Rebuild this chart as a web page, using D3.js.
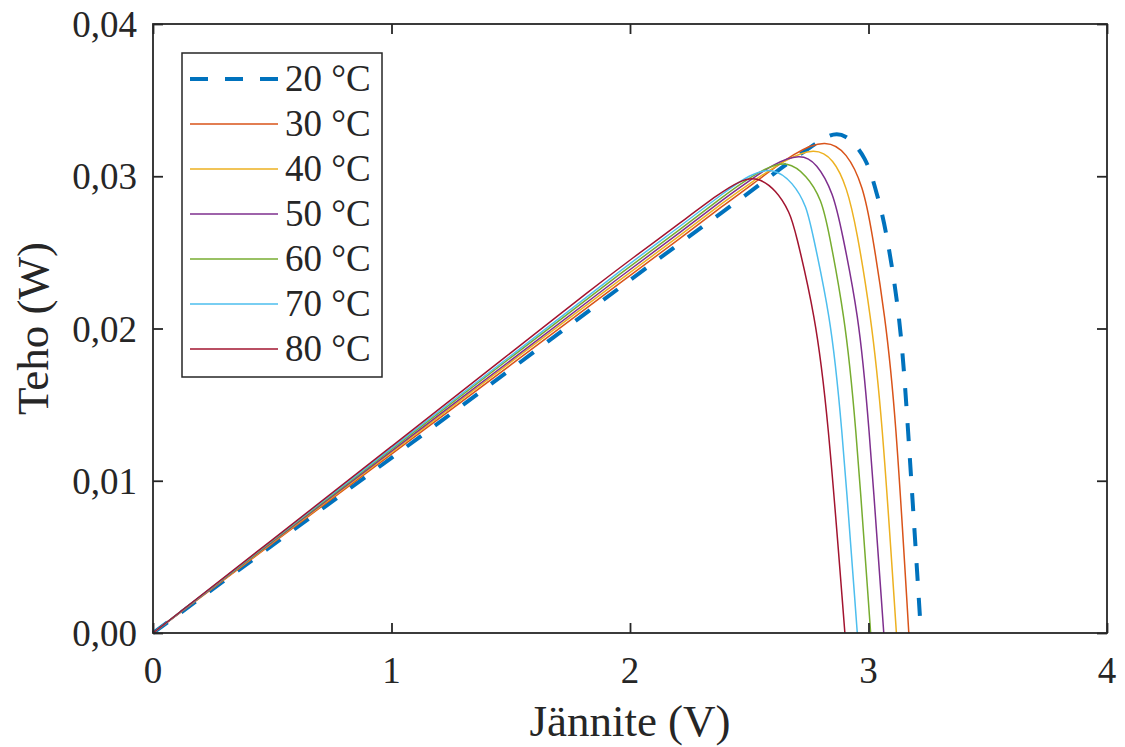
<!DOCTYPE html>
<html>
<head>
<meta charset="utf-8">
<script src="https://cdn.jsdelivr.net/npm/d3@7"></script>
<style>
	body { margin: 0; background: #fff; }
	svg text { font-family: "Liberation Serif", "Times New Roman", serif; fill: #262626; }
</style>
</head>
<body>
<svg id="chart" width="1125" height="747"></svg>
<script>
	'use strict';

	//data: voltage (V) and power (W) per temperature
	var labels = ['20 °C', '30 °C', '40 °C', '50 °C', '60 °C', '70 °C', '80 °C'],
		colors = ['#0072BD', '#D95319', '#EDB120', '#7E2F8E', '#77AC30', '#4DBEEE', '#A2142F'],
		xTicks = [0, 1, 2, 3, 4],
		yTicks = [0, 0.01, 0.02, 0.03, 0.04];

	var v20 = [0, 0.5, 1, 1.5, 2, 2.21, 2.4, 2.524, 2.629, 2.755, 2.84, 2.90, 2.992, 3.034, 3.069, 3.132, 3.161, 3.22],
		p20 = [0, 0.00575, 0.0115, 0.0173, 0.0232, 0.0256, 0.0278, 0.0292, 0.0305, 0.0319, 0.0328, 0.03285, 0.03128, 0.02888, 0.02693, 0.02089, 0.01465, 0];

	var v30 = [0, 0.5, 1, 1.5, 2, 2.21, 2.4, 2.5, 2.7, 2.823, 2.909, 2.978, 3.013, 3.069, 3.113, 3.169],
		p30 = [0, 0.00588, 0.01175, 0.0176, 0.0235, 0.0259, 0.0282, 0.0293, 0.0317, 0.0324, 0.0316, 0.02932, 0.0265, 0.02089, 0.01465, 0];

	var v40 = [0, 0.5, 1, 1.5, 2, 2.21, 2.4, 2.5, 2.65, 2.776, 2.853, 2.909, 2.951, 3.009, 3.055, 3.117],
		p40 = [0, 0.00593, 0.01185, 0.0178, 0.0237, 0.0261, 0.0284, 0.0295, 0.0311, 0.0319, 0.03115, 0.02932, 0.0265, 0.02089, 0.01465, 0];

	var v50 = [0, 0.5, 1, 1.5, 2, 2.21, 2.4, 2.5, 2.6, 2.713, 2.783, 2.853, 2.887, 2.958, 2.998, 3.064],
		p50 = [0, 0.00598, 0.01195, 0.0179, 0.0239, 0.0263, 0.0286, 0.0297, 0.0308, 0.0315, 0.0309, 0.02888, 0.0265, 0.02089, 0.01465, 0];

	var v60 = [0, 0.5, 1, 1.5, 2, 2.21, 2.4, 2.5, 2.58, 2.656, 2.741, 2.804, 2.832, 2.899, 2.943, 3.009],
		p60 = [0, 0.00603, 0.01205, 0.0181, 0.0241, 0.0265, 0.0288, 0.0299, 0.0306, 0.0310, 0.0301, 0.02844, 0.0265, 0.02089, 0.01465, 0];

	var v70 = [0, 0.5, 1, 1.5, 2, 2.21, 2.4, 2.5, 2.6, 2.684, 2.741, 2.762, 2.839, 2.884, 2.953],
		p70 = [0, 0.00608, 0.01215, 0.0182, 0.0243, 0.0267, 0.0290, 0.0301, 0.0306, 0.0296, 0.0280, 0.0265, 0.02089, 0.01465, 0];

	var v80 = [0, 0.5, 1, 1.5, 1.845, 2, 2.21, 2.377, 2.461, 2.53, 2.614, 2.671, 2.692, 2.776, 2.828, 2.901],
		p80 = [0, 0.00612, 0.01225, 0.0184, 0.02266, 0.0245, 0.02693, 0.0289, 0.0297, 0.0300, 0.0291, 0.02758, 0.0265, 0.02089, 0.01465, 0];

	var volts = [v20, v30, v40, v50, v60, v70, v80],
		powers = [p20, p30, p40, p50, p60, p70, p80];

	//layout
	var svg = d3.select('#chart'),
		boxLeft = 153, boxRight = 1107, boxTop = 24, boxBottom = 633,
		tickLen = 10,
		axisColor = '#262626';

	var x = d3.scaleLinear().domain([0, 4]).range([boxLeft, boxRight]),
		y = d3.scaleLinear().domain([0, 0.04]).range([boxBottom, boxTop]);

	function fmt(d) {
		return d3.format('.2f')(d).replace('.', ',');
	}

	//curves
	var line = d3.line()
		.x(function(d) { return x(d[0]); })
		.y(function(d) { return y(d[1]); })
		.curve(d3.curveBasis);

	var plot = svg.append('g');

	labels.forEach(function(label, i) {
		var pts = volts[i].map(function(v, j) { return [v, powers[i][j]]; });
		var path = plot.append('path')
			.datum(pts)
			.attr('d', line)
			.attr('fill', 'none')
			.attr('stroke', colors[i])
			.attr('stroke-width', i === 0 ? 4 : 1.5);
		if (i === 0) {
			path.attr('stroke-dasharray', '18,17');
		}
	});

	//axes box with inward ticks on all four sides
	function noDomain(g) {
		g.select('.domain').remove();
	}

	svg.append('g')
		.attr('transform', 'translate(0,' + boxBottom + ')')
		.call(d3.axisBottom(x).tickValues(xTicks).tickSize(-tickLen).tickFormat(''))
		.call(noDomain);
	svg.append('g')
		.attr('transform', 'translate(0,' + boxTop + ')')
		.call(d3.axisTop(x).tickValues(xTicks).tickSize(-tickLen).tickFormat(''))
		.call(noDomain);
	svg.append('g')
		.attr('transform', 'translate(' + boxLeft + ',0)')
		.call(d3.axisLeft(y).tickValues(yTicks).tickSize(-tickLen).tickFormat(''))
		.call(noDomain);
	svg.append('g')
		.attr('transform', 'translate(' + boxRight + ',0)')
		.call(d3.axisRight(y).tickValues(yTicks).tickSize(-tickLen).tickFormat(''))
		.call(noDomain);

	svg.selectAll('.tick line').attr('stroke', axisColor).attr('stroke-width', 1.8);

	svg.append('rect')
		.attr('x', boxLeft)
		.attr('y', boxTop)
		.attr('width', boxRight - boxLeft)
		.attr('height', boxBottom - boxTop)
		.attr('fill', 'none')
		.attr('stroke', axisColor)
		.attr('stroke-width', 1.8);

	//tick labels
	svg.append('g').selectAll('text')
		.data(xTicks)
		.enter().append('text')
		.attr('x', function(d) { return x(d); })
		.attr('y', boxBottom + 50)
		.attr('text-anchor', 'middle')
		.attr('font-size', 37)
		.text(function(d) { return d; });

	svg.append('g').selectAll('text')
		.data(yTicks)
		.enter().append('text')
		.attr('x', boxLeft - 16)
		.attr('y', function(d) { return y(d) + 13; })
		.attr('text-anchor', 'end')
		.attr('font-size', 37)
		.text(fmt);

	//axis titles
	svg.append('text')
		.attr('x', (boxLeft + boxRight) / 2)
		.attr('y', 736)
		.attr('text-anchor', 'middle')
		.attr('font-size', 45)
		.text('Jännite (V)');

	svg.append('text')
		.attr('transform', 'translate(48,' + (boxTop + boxBottom) / 2 + ') rotate(-90)')
		.attr('text-anchor', 'middle')
		.attr('font-size', 45)
		.text('Teho (W)');

	//legend
	var legend = svg.append('g');
	legend.append('rect')
		.attr('x', 182)
		.attr('y', 53)
		.attr('width', 200)
		.attr('height', 324)
		.attr('fill', '#fff')
		.attr('stroke', axisColor)
		.attr('stroke-width', 1.5);

	labels.forEach(function(label, i) {
		var ly = 79 + i * 45;
		var l = legend.append('line')
			.attr('x1', 190)
			.attr('x2', 278)
			.attr('y1', ly)
			.attr('y2', ly)
			.attr('stroke', colors[i])
			.attr('stroke-width', i === 0 ? 4 : 1.5);
		if (i === 0) {
			l.attr('stroke-dasharray', '18,17');
		}
		legend.append('text')
			.attr('x', 285)
			.attr('y', ly + 12)
			.attr('font-size', 37)
			.text(label);
	});
</script>
</body>
</html>
